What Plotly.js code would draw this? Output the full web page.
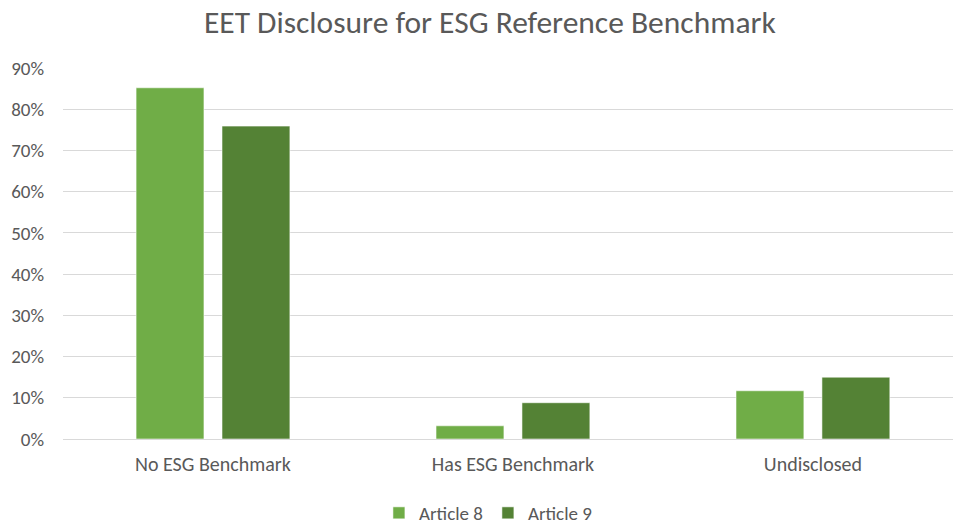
<!DOCTYPE html>
<html>
<head>
<meta charset="utf-8">
<script src="https://cdn.plot.ly/plotly-3.0.1.min.js"></script>
<style>html,body{margin:0;padding:0;overflow:hidden;background:#fff}#chart{width:953px;height:529px}</style>
</head>
<body>
<div id="chart"></div>
<script>
const categories = ["No ESG Benchmark", "Has ESG Benchmark", "Undisclosed"];
const article8 = [0.852, 0.032, 0.117];
const article9 = [0.759, 0.088, 0.150];
const seriesNames = ["Article 8", "Article 9"];
const yTicks = [0, 0.1, 0.2, 0.3, 0.4, 0.5, 0.6, 0.7, 0.8, 0.9];
const yTickLabels = ["0%", "10%", "20%", "30%", "40%", "50%", "60%", "70%", "80%", "90%"];

const font = "Carlito, Calibri, Lato, 'Open Sans', sans-serif";
const grey = "#595959";

const traces = [
  {type: "bar", name: seriesNames[0], x: categories, y: article8,
   marker: {color: "#70AD47", line: {color: "rgba(255,255,255,0.55)", width: 1}}},
  {type: "bar", name: seriesNames[1], x: categories, y: article9,
   marker: {color: "#548235", line: {color: "rgba(255,255,255,0.55)", width: 1}}}
];

const layout = {
  width: 953, height: 529,
  margin: {l: 63, r: 0, t: 68, b: 90},
  paper_bgcolor: "#fff", plot_bgcolor: "#fff",
  font: {family: font, color: grey, size: 13},
  title: {text: "EET Disclosure for ESG Reference Benchmark", font: {family: font, size: 31.5, color: grey},
          x: 0.514, xref: "container", xanchor: "center", y: 1 - 22/529, yref: "container", yanchor: "middle"},
  barmode: "group", bargap: 0.427, bargroupgap: 0.21,
  xaxis: {type: "category", range: [-0.5, 2.467], showgrid: false, showline: false, zeroline: false,
          ticks: "", tickfont: {family: font, size: 20, color: grey}, ticklabelstandoff: 11, fixedrange: true},
  yaxis: {range: [0, 0.9], tickvals: yTicks, ticktext: yTickLabels, showgrid: true, gridcolor: "#D9D9D9", gridwidth: 1,
          zeroline: true, zerolinecolor: "#D9D9D9", zerolinewidth: 1, showline: false, ticks: "",
          tickfont: {family: font, size: 19, color: grey}, ticklabelstandoff: 18, fixedrange: true},
  showlegend: true,
  legend: {orientation: "h", x: 0.512, xref: "container", xanchor: "center", y: 1 - 513/529, yref: "container", yanchor: "middle",
           font: {family: font, size: 19, color: grey}, itemwidth: 30, traceorder: "normal"}
};

Plotly.newPlot("chart", traces, layout, {displayModeBar: false, staticPlot: true});
</script>
</body>
</html>
